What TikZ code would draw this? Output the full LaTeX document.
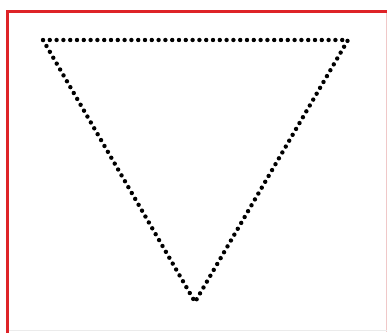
\documentclass[tikz,border=0pt]{standalone}
\definecolor{frame}{RGB}{222,35,40}
\definecolor{faint}{RGB}{240,200,200}
\tikzset{
  framebox/.style={draw=frame, line width=3pt},
  dotline/.style={draw=black, line width=4.4pt, line cap=round, dash pattern=on 0pt off 6.8pt}
}
\begin{document}
\begin{tikzpicture}[x=1pt,y=-1pt]
\useasboundingbox (0,0) rectangle (387,332);
\clip (0,0) rectangle (387,332);
\fill[white] (0,0) rectangle (387,332);
\draw[framebox] (7.5,11.5) rectangle (390,335);
\draw[faint, line width=1pt] (386.5,13) -- (386.5,332);
\draw[black!8, line width=1pt] (9,330.5) -- (387,330.5);
\coordinate (tl) at (43,40);
\coordinate (tr) at (348,40);
\coordinate (bt) at (195,302);
\draw[dotline] (tl) -- (tr) -- (bt) -- cycle;
\end{tikzpicture}
\end{document}
